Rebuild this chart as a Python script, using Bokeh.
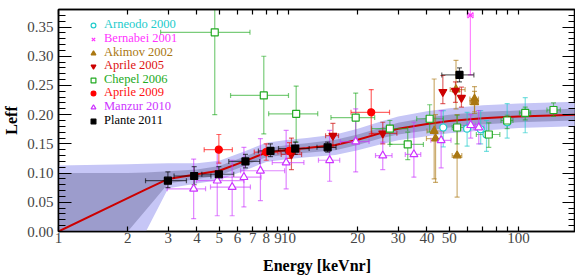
import math
from bokeh.plotting import figure
from bokeh.models import (Range1d, LogAxis, LinearAxis, FixedTicker, SingleIntervalTicker,
                          NumeralTickFormatter, Legend, LegendItem, CustomLabelingPolicy)
from bokeh.embed import file_html
from bokeh.resources import INLINE

# ---------------- data ----------------
# model band (energy in keVnr)
E_band   = [1, 2.0, 2.4, 3, 4, 5, 6.5, 8, 10, 12, 16, 20, 25, 30, 40, 50, 70, 100, 177]
curve    = [0.0, 0.057, 0.072, 0.090, 0.098, 0.104, 0.121, 0.135, 0.140, 0.143, 0.148, 0.157, 0.168, 0.176, 0.184, 0.189, 0.194, 0.197, 0.200]
dark_hi  = [0.100, 0.100, 0.101, 0.103, 0.106, 0.112, 0.129, 0.143, 0.148, 0.151, 0.157, 0.166, 0.177, 0.186, 0.195, 0.200, 0.205, 0.207, 0.210]
dark_lo  = [0.0, 0.0, 0.037, 0.082, 0.090, 0.096, 0.113, 0.127, 0.132, 0.135, 0.139, 0.148, 0.159, 0.166, 0.173, 0.178, 0.183, 0.187, 0.190]
light_hi = [0.113, 0.115, 0.116, 0.117, 0.117, 0.121, 0.138, 0.152, 0.157, 0.160, 0.166, 0.176, 0.188, 0.197, 0.206, 0.211, 0.216, 0.219, 0.222]
light_lo = [0.0, 0.0, 0.0, 0.074, 0.082, 0.088, 0.105, 0.119, 0.124, 0.127, 0.131, 0.139, 0.149, 0.156, 0.163, 0.168, 0.173, 0.177, 0.180]

# Arneodo 2000
arn_E    = [47.1, 59.8, 68.5, 72.6, 89.3, 107]
arn_L    = [0.178, 0.176, 0.175, 0.166, 0.187, 0.203]
arn_Llo  = [0.145, 0.146, 0.150, 0.137, 0.160, 0.169]
arn_Lhi  = [0.207, 0.204, 0.207, 0.190, 0.219, 0.229]
arn_Elo  = arn_E
arn_Ehi  = arn_E

# Bernabei 2001
ber_E    = [61.8]
ber_L    = [0.370]
ber_Llo  = [0.268]
ber_Lhi  = [0.50]
ber_Elo  = [60.0]
ber_Ehi  = [63.6]

# Akimov 2002
aki_E    = [43.0, 43.6, 53.5, 54.1, 64.4, 64.4]
aki_L    = [0.172, 0.159, 0.243, 0.130, 0.227, 0.221]
aki_Llo  = [0.090, 0.084, 0.210, 0.059, 0.205, 0.202]
aki_Lhi  = [0.261, 0.200, 0.293, 0.200, 0.248, 0.240]
aki_Elo  = [40.0, 39.8, 50.5, 51.5, 61.5, 61.5]
aki_Ehi  = [47.3, 46.5, 58.6, 56.7, 67.0, 67.0]

# Aprile 2005
a05_E    = [10.3, 15.6, 25.7, 46.9, 53.2, 56.5]
a05_L    = [0.132, 0.164, 0.168, 0.239, 0.241, 0.229]
a05_Llo  = [0.106, 0.144, 0.150, 0.219, 0.221, 0.213]
a05_Lhi  = [0.160, 0.185, 0.187, 0.267, 0.256, 0.247]
a05_Elo  = [9.3, 14.5, 23.0, 46.9, 53.2, 56.5]
a05_Ehi  = [11.4, 16.5, 29.6, 46.9, 53.2, 56.5]

# Chepel 2006
che_E    = [4.78, 7.81, 10.8, 19.6, 27.6, 33.0, 41.1, 54.1, 74.3, 89.3, 107, 142]
che_L    = [0.341, 0.233, 0.2015, 0.195, 0.176, 0.149, 0.193, 0.178, 0.166, 0.190, 0.203, 0.208]
che_Llo  = [0.200, 0.167, 0.153, 0.153, 0.149, 0.123, 0.170, 0.150, 0.144, 0.176, 0.191, 0.197]
che_Lhi  = [0.50, 0.300, 0.249, 0.237, 0.190, 0.170, 0.217, 0.199, 0.186, 0.199, 0.213, 0.220]
che_Elo  = [2.78, 5.6, 8.2, 15.3, 23.0, 27.6, 36.1, 51.5, 65.6, 84.0, 101, 133]
che_Ehi  = [6.8, 10.0, 13.4, 23.7, 33.0, 38.6, 47.1, 58.0, 83.0, 94.6, 113, 152]

# Aprile 2009
a09_E    = [4.98, 8.0, 10.1, 22.9]
a09_L    = [0.140, 0.136, 0.138, 0.204]
a09_Llo  = [0.117, 0.122, 0.125, 0.167]
a09_Lhi  = [0.166, 0.150, 0.152, 0.243]
a09_Elo  = [4.3, 7.1, 9.2, 18.7]
a09_Ehi  = [5.7, 9.0, 11.2, 27.5]

# Manzur 2010
man_E    = [3.87, 4.9, 5.69, 6.4, 7.55, 9.77, 15.1, 19.6, 25.7, 35.1, 46.1, 62.0, 67.2]
man_L    = [0.073, 0.087, 0.076, 0.093, 0.104, 0.118, 0.122, 0.154, 0.130, 0.132, 0.156, 0.182, 0.178]
man_Llo  = [0.022, 0.027, 0.027, 0.042, 0.053, 0.073, 0.086, 0.102, 0.106, 0.093, 0.109, 0.160, 0.150]
man_Lhi  = [0.124, 0.142, 0.122, 0.144, 0.159, 0.173, 0.173, 0.210, 0.153, 0.187, 0.207, 0.200, 0.207]
man_Elo  = [2.97, 3.98, 4.58, 5.15, 6.19, 8.5, 13.5, 16.8, 23.9, 32.2, 41.6, 59.5, 64.0]
man_Ehi  = [4.36, 6.4, 6.83, 7.6, 9.62, 11.67, 16.7, 22.4, 28.2, 37.6, 50.9, 65.0, 70.9]

# Plante 2011
pla_E    = [2.99, 3.89, 4.98, 6.5, 8.35, 10.7, 14.8, 55.4]
pla_L    = [0.087, 0.095, 0.098, 0.120, 0.138, 0.142, 0.144, 0.268]
pla_Llo  = [0.075, 0.080, 0.084, 0.109, 0.128, 0.132, 0.136, 0.256]
pla_Lhi  = [0.102, 0.111, 0.111, 0.132, 0.150, 0.153, 0.153, 0.280]
pla_Elo  = [2.39, 3.18, 4.2, 5.5, 7.4, 9.05, 13.3, 46.4]
pla_Ehi  = [3.6, 4.6, 5.78, 7.5, 9.7, 12.3, 16.1, 64.0]

x_ticks = [1, 2, 3, 4, 5, 6, 7, 8, 9, 10, 20, 30, 40, 50, 100]
x_minor = [60, 70, 80, 90]

FONT = "Liberation Serif"

# ---------------- figure ----------------
p = figure(x_axis_type="log", x_range=Range1d(1, 177), y_range=Range1d(0, 0.38),
           frame_width=517, frame_height=222, output_backend="svg", toolbar_location=None,
           min_border_left=50, min_border_right=0, min_border_top=9, min_border_bottom=0)
p.xgrid.visible = False
p.ygrid.visible = False
p.outline_line_color = "black"
p.outline_line_width = 1.5
p.background_fill_color = "white"

HIDE = "for (const i of Array.from(indices)) { indices.unset(i) }\nreturn indices"

def style_x(ax, labels=True):
    ax.ticker = FixedTicker(ticks=x_ticks, minor_ticks=x_minor)
    ax.formatter = NumeralTickFormatter(format="0")
    ax.major_tick_in = 5
    ax.major_tick_out = 0
    ax.minor_tick_in = 5
    ax.minor_tick_out = 0
    ax.axis_line_width = 1.5
    ax.major_tick_line_width = 1.2
    ax.minor_tick_line_width = 1.2
    ax.major_label_text_font = FONT
    if labels:
        ax.major_label_text_font_size = "15px"
        ax.major_label_standoff = 1
    else:
        ax.major_label_text_font_size = "0px"
        ax.major_label_standoff = 0
        ax.major_label_policy = CustomLabelingPolicy(code=HIDE)

def style_y(ax, labels=True):
    ax.ticker = SingleIntervalTicker(interval=0.05, num_minor_ticks=5)
    ax.formatter = NumeralTickFormatter(format="0.00")
    ax.major_tick_in = 13
    ax.major_tick_out = 0
    ax.minor_tick_in = 7
    ax.minor_tick_out = 0
    ax.axis_line_width = 1.5
    ax.major_tick_line_width = 1.2
    ax.minor_tick_line_width = 1.2
    ax.major_label_text_font = FONT
    if labels:
        ax.major_label_text_font_size = "15px"
        ax.major_label_standoff = 5
    else:
        ax.major_label_text_font_size = "0px"
        ax.major_label_standoff = 0
        ax.major_label_policy = CustomLabelingPolicy(code=HIDE)

style_x(p.xaxis[0])
style_y(p.yaxis[0])
p.xaxis.axis_label = "Energy [keVnr]"
p.yaxis.axis_label = "Leff"
for ax in (p.xaxis[0], p.yaxis[0]):
    ax.axis_label_text_font = FONT
    ax.axis_label_text_font_style = "bold"
    ax.axis_label_text_font_size = "16px"
    ax.axis_label_text_color = "black"
p.xaxis.axis_label_standoff = 11
p.yaxis.axis_label_standoff = 4

top = LogAxis()
style_x(top, labels=False)
p.add_layout(top, "above")
right = LinearAxis()
style_y(right, labels=False)
p.add_layout(right, "right")

# ---------------- band ----------------
p.varea(x=E_band, y1=light_lo, y2=light_hi, fill_color="#c6c6f6")
p.varea(x=E_band, y1=dark_lo, y2=dark_hi, fill_color="#9c9ccc")
p.line(E_band, curve, line_color="#cc0000", line_width=2)

# ---------------- data points ----------------
def errors(E, L, Llo, Lhi, Elo, Ehi, color, alpha):
    p.segment(x0=E, y0=Llo, x1=E, y1=Lhi, line_color=color, line_alpha=alpha, line_width=1.2)
    p.scatter(x=E + E, y=Llo + Lhi, marker="dash", size=5, line_color=color,
              line_alpha=alpha, line_width=1.2)
    xs = [(e, l, lo, hi) for e, l, lo, hi in zip(E, L, Elo, Ehi) if hi > lo]
    if xs:
        e0 = [t[2] for t in xs]
        e1 = [t[3] for t in xs]
        ly = [t[1] for t in xs]
        p.segment(x0=e0, y0=ly, x1=e1, y1=ly, line_color=color, line_alpha=alpha, line_width=1.2)
        p.scatter(x=e0 + e1, y=ly + ly, marker="dash", angle=math.pi / 2, size=5,
                  line_color=color, line_alpha=alpha, line_width=1.2)

sets = [
    # name, E, L, Llo, Lhi, Elo, Ehi, color, text color, marker, filled, size
    ("Arneodo 2000", arn_E, arn_L, arn_Llo, arn_Lhi, arn_Elo, arn_Ehi, "#22cccc", "#22cccc", "circle", False, 7),
    ("Bernabei 2001", ber_E, ber_L, ber_Llo, ber_Lhi, ber_Elo, ber_Ehi, "#ff33ff", "#ff33ff", "x", False, 8),
    ("Akimov 2002", aki_E, aki_L, aki_Llo, aki_Lhi, aki_Elo, aki_Ehi, "#aa7711", "#aa7711", "triangle", True, 8),
    ("Aprile 2005", a05_E, a05_L, a05_Llo, a05_Lhi, a05_Elo, a05_Ehi, "#cc0000", "#dd1111", "inverted_triangle", True, 8),
    ("Chepel 2006", che_E, che_L, che_Llo, che_Lhi, che_Elo, che_Ehi, "#22aa22", "#22aa22", "square", False, 7),
    ("Aprile 2009", a09_E, a09_L, a09_Llo, a09_Lhi, a09_Elo, a09_Ehi, "#ff0000", "#ff1111", "circle", True, 7),
    ("Manzur 2010", man_E, man_L, man_Llo, man_Lhi, man_Elo, man_Ehi, "#cc33ff", "#cc33ff", "triangle", False, 8),
    ("Plante 2011", pla_E, pla_L, pla_Llo, pla_Lhi, pla_Elo, pla_Ehi, "#000000", "#000000", "square", True, 7),
]

marker_renderers = []
for name, E, L, Llo, Lhi, Elo, Ehi, col, tcol, mk, filled, sz in sets:
    errors(E, L, Llo, Lhi, Elo, Ehi, col, 0.6)
for name, E, L, Llo, Lhi, Elo, Ehi, col, tcol, mk, filled, sz in sets:
    r = p.scatter(x=E, y=L, marker=mk, size=sz, line_color=col, line_width=1.2,
                  fill_color=col if filled else "white")
    marker_renderers.append((name, tcol, r))

rows = [17, 31, 45, 58, 72, 85, 99, 113]
for (name, tcol, r), row in zip(marker_renderers, rows):
    leg = Legend(items=[LegendItem(label=name, renderers=[r])],
                 location=(28, 222 - (row + 6)),
                 padding=0, margin=0, spacing=0,
                 border_line_alpha=0, background_fill_alpha=0,
                 glyph_width=14, glyph_height=12, label_height=12, label_standoff=4,
                 label_text_font=FONT, label_text_font_size="12.5px",
                 label_text_color=tcol)
    p.add_layout(leg, "center")

open("out.html", "w").write(file_html(p, INLINE))
